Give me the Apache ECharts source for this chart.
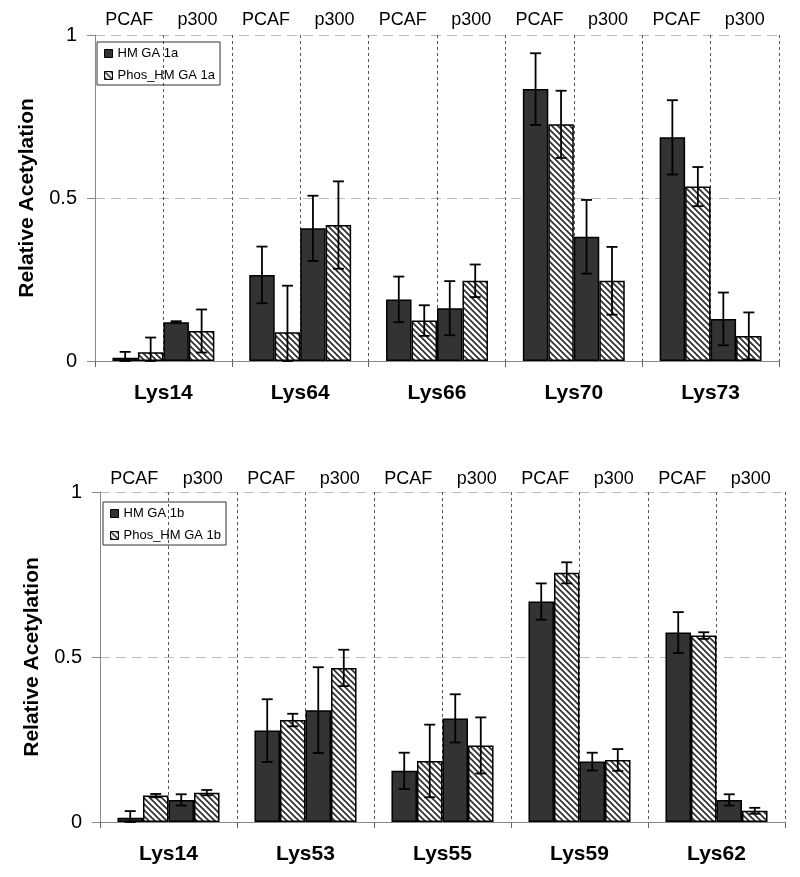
<!DOCTYPE html>
<html><head><meta charset="utf-8">
<script src="https://cdn.jsdelivr.net/npm/echarts@6/dist/echarts.min.js"></script>
<style>html,body{margin:0;padding:0;background:#fff}#c{width:800px;height:877px}</style>
</head><body><div id="c"></div>
<script>
// ---- Data: top panel (HMGA1a) ----
const catsA = ['Lys14','Lys64','Lys66','Lys70','Lys73'];
const a_pcaf      = [0.010, 0.264, 0.189, 0.834, 0.686];
const a_pcaf_err  = [0.018, 0.087, 0.070, 0.110, 0.114];
const pa_pcaf     = [0.027, 0.088, 0.124, 0.726, 0.535];
const pa_pcaf_err = [0.045, 0.143, 0.047, 0.103, 0.060];
const a_p300      = [0.119, 0.407, 0.162, 0.381, 0.129];
const a_p300_err  = [0.003, 0.100, 0.083, 0.113, 0.081];
const pa_p300     = [0.092, 0.417, 0.246, 0.246, 0.077];
const pa_p300_err = [0.066, 0.134, 0.050, 0.104, 0.072];
// ---- Data: bottom panel (HMGA1b) ----
const catsB = ['Lys14','Lys53','Lys55','Lys59','Lys62'];
const b_pcaf      = [0.013, 0.277, 0.155, 0.668, 0.574];
const b_pcaf_err  = [0.020, 0.095, 0.055, 0.055, 0.062];
const pb_pcaf     = [0.080, 0.309, 0.185, 0.755, 0.565];
const pb_pcaf_err = [0.005, 0.019, 0.110, 0.032, 0.010];
const b_p300      = [0.067, 0.339, 0.314, 0.183, 0.067];
const b_p300_err  = [0.017, 0.130, 0.073, 0.027, 0.017];
const pb_p300     = [0.089, 0.467, 0.232, 0.188, 0.034];
const pb_p300_err = [0.008, 0.055, 0.085, 0.033, 0.009];
const enzymeLabels = ['PCAF','p300','PCAF','p300','PCAF','p300','PCAF','p300','PCAF','p300'];
const yTicks = [0, 0.5, 1];
const legendA = ['HM GA 1a','Phos_HM GA 1a'];
const legendB = ['HM GA 1b','Phos_HM GA 1b'];

const FONT = "'Liberation Sans', Arial, sans-serif";
function makePattern(){
  const c=document.createElement('canvas'); c.width=6; c.height=6;
  const ctx=c.getContext('2d');
  ctx.fillStyle='#fff'; ctx.fillRect(0,0,6,6);
  ctx.strokeStyle='#2a2a2a'; ctx.lineWidth=1.6;
  ctx.beginPath();
  ctx.moveTo(-1,-1); ctx.lineTo(7,7);
  ctx.moveTo(-1,5); ctx.lineTo(1,7);
  ctx.moveTo(5,-1); ctx.lineTo(7,1);
  ctx.stroke();
  return c;
}
const hatch = {image: makePattern(), repeat:'repeat'};
const DARK = '#333333';
const GAP = 0.255;

function barSeries(name, data, g, fill){
  return {type:'bar', name, data, xAxisIndex:g*2, yAxisIndex:g, barGap:0, barCategoryGap:(GAP*100)+'%',
    itemStyle:{color:fill, borderColor:'#000', borderWidth:1.5}, z:3, animation:false};
}
function errSeries(vals, errs, g, idx){
  return {type:'custom', xAxisIndex:g*2, yAxisIndex:g, z:5, animation:false, silent:true,
    data: vals.map((v,i)=>[i, v, errs[i]]),
    encode:{x:0,y:1},
    renderItem:function(params, api){
      const cat=api.value(0), v=api.value(1), e=api.value(2);
      const cw = api.size([1,0])[0];
      const bw = cw*(1-GAP)/4;
      const c = api.coord([cat, v]);
      const x = c[0] - 2*bw + (idx+0.5)*bw;
      const hi = api.coord([cat, v+e])[1];
      const lo = api.coord([cat, Math.max(0, v-e)])[1];
      const hw = 5.5;
      const st = {stroke:'#000', lineWidth:1.8};
      return {type:'group', children:[
        {type:'line', shape:{x1:x,y1:hi,x2:x,y2:lo}, style:st},
        {type:'line', shape:{x1:x-hw,y1:hi,x2:x+hw,y2:hi}, style:st},
        {type:'line', shape:{x1:x-hw,y1:lo,x2:x+hw,y2:lo}, style:st}
      ]};
    }};
}
const dash = {color:'#555', type:[3,3], width:1};
function xAxes(cats, g){
  return [
    {type:'category', gridIndex:g, data:cats, position:'bottom',
     axisLine:{lineStyle:{color:'#888', width:1}},
     axisTick:{show:true, length:6, lineStyle:{color:'#666'}},
     axisLabel:{fontSize:21, fontWeight:'bold', color:'#000', margin:22, fontFamily:FONT, interval:0},
     splitLine:{show:true, lineStyle:dash}},
    {type:'category', gridIndex:g, data:enzymeLabels, position:'top',
     axisLine:{show:false}, axisTick:{show:false},
     axisLabel:{fontSize:18, color:'#000', margin:g===0?6:4, fontFamily:FONT, interval:0},
     splitLine:{show:true, lineStyle:dash}}
  ];
}
function yAxis(g, gap){
  return {type:'value', gridIndex:g, min:0, max:1, interval:0.5,
    axisLine:{show:true, lineStyle:{color:'#888'}},
    axisTick:{show:true, length:8, lineStyle:{color:'#888'}},
    axisLabel:{fontSize:20, color:'#000', margin:18, fontFamily:FONT,
      formatter:v=>yTicks.includes(v)?String(v):''},
    splitLine:{show:true, lineStyle:{color:'#bbb', type:[10,6], width:1}},
    name:'Relative Acetylation', nameLocation:'middle', nameGap:gap,
    nameTextStyle:{fontSize:21, fontWeight:'bold', color:'#000', fontFamily:FONT}};
}
function legend(names, left, top){
  return {data:names.map(n=>({name:n, icon:'rect'})), orient:'vertical', left, top, itemWidth:8, itemHeight:8, itemGap:9,
    padding:[5,5,3,7], borderColor:'#333', borderWidth:1, backgroundColor:'transparent',
    textStyle:{fontSize:13, color:'#000', fontFamily:FONT}, selectedMode:false,
    itemStyle:{borderColor:'#000', borderWidth:1}};
}

const chart = echarts.init(document.getElementById('c'), null, {renderer:'canvas'});
chart.setOption({
  animation:false,
  backgroundColor:'#fff',
  grid:[{left:95, top:35, width:684, height:326}, {left:100, top:492, width:685, height:330}],
  xAxis:[...xAxes(catsA,0), ...xAxes(catsB,1)],
  yAxis:[yAxis(0,57), yAxis(1,57)],
  legend:[legend(legendA, 97, 42), legend(legendB, 103, 502)],
  series:[
    barSeries(legendA[0], a_pcaf, 0, DARK),
    barSeries(legendA[1], pa_pcaf, 0, hatch),
    barSeries(legendA[0], a_p300, 0, DARK),
    barSeries(legendA[1], pa_p300, 0, hatch),
    errSeries(a_pcaf, a_pcaf_err, 0, 0),
    errSeries(pa_pcaf, pa_pcaf_err, 0, 1),
    errSeries(a_p300, a_p300_err, 0, 2),
    errSeries(pa_p300, pa_p300_err, 0, 3),
    barSeries(legendB[0], b_pcaf, 1, DARK),
    barSeries(legendB[1], pb_pcaf, 1, hatch),
    barSeries(legendB[0], b_p300, 1, DARK),
    barSeries(legendB[1], pb_p300, 1, hatch),
    errSeries(b_pcaf, b_pcaf_err, 1, 0),
    errSeries(pb_pcaf, pb_pcaf_err, 1, 1),
    errSeries(b_p300, b_p300_err, 1, 2),
    errSeries(pb_p300, pb_p300_err, 1, 3)
  ]
});
</script></body></html>
